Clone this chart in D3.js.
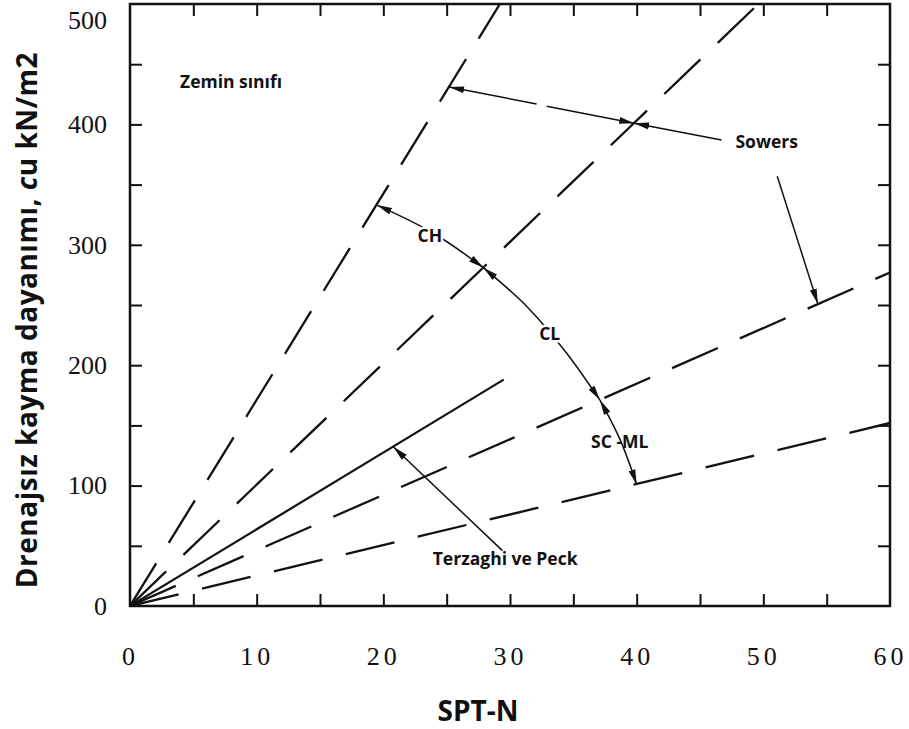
<!DOCTYPE html>
<html>
<head>
<meta charset="utf-8">
<script src="https://cdn.jsdelivr.net/npm/d3@7"></script>
<style>
  body{margin:0;background:#fff}
  svg{display:block}
  .lbl{font-family:"Open Sans",sans-serif;font-weight:700;fill:#111}
  .tick-lbl text{font-family:"Liberation Serif","Times New Roman",serif;font-size:26px;fill:#111}
</style>
</head>
<body>
<svg id="chart"></svg>
<script>
// axis ticks
const xLabels = [0,10,20,30,40,50,60]
const yLabels = [0,100,200,300,400,500]
const xMinor = [5,10,15,20,25,30,35,40,45,50,55]
const yMinor = [50,100,150,200,250,300,350,400,450]

// Sowers soil class boundaries, from origin to end point [N, cu]
const sowersEndN = [29.2, 49.6, 60, 60]
const sowersEndCu = [500, 500, 277, 152]
// Terzaghi ve Peck
const terzaghiN = [0, 29.5]
const terzaghiCu = [0, 188]

// soil class arc (CH / CL / SC-ML) [N, cu]
const arcCH = [[19.5,333],[23.9,310],[27.9,281]]
const arcCL = [[27.9,281],[31.4,248],[34.4,211],[37.1,171]]
const arcSCML = [[37.1,171],[38.7,138],[40.0,101]]

// leader arrows [from, to]
const sowersArrows = [
  [[46.7,387],[39.8,401]],
  [[32.9,415],[39.8,401]],
  [[32.1,417],[25.2,431]],
  [[51.1,357],[54.3,251]]
]
const terzaghiArrow = [[29.4,46],[20.8,132]]

const width = 909, height = 729
const margin = {top:4, right:19, bottom:123, left:130}

const svg = d3.select('#chart').attr('width',width).attr('height',height)

const x = d3.scaleLinear().domain([0,60]).range([margin.left, width - margin.right])
const y = d3.scaleLinear().domain([0,500]).range([height - margin.bottom, margin.top])

svg.append('defs').append('clipPath').attr('id','plot')
  .append('rect')
  .attr('x',x(0)).attr('y',y(500))
  .attr('width',x(60)-x(0)).attr('height',y(0)-y(500))

svg.select('defs').append('marker')
  .attr('id','arr')
  .attr('viewBox','0 0 15 8')
  .attr('refX',15).attr('refY',4)
  .attr('markerWidth',15).attr('markerHeight',8)
  .attr('markerUnits','userSpaceOnUse')
  .attr('orient','auto-start-reverse')
  .append('path').attr('d','M0,0.5 L15,4 L0,7.5 Z').attr('fill','#111')

const line = d3.line().x(d => x(d[0])).y(d => y(d[1]))

// inner ticks on all four sides
const tickLen = 12
function ticks(axis, tr){
  const g = svg.append('g').attr('transform',tr).call(axis)
  g.select('.domain').remove()
  g.selectAll('line').attr('stroke','#111').attr('stroke-width',2)
  g.selectAll('text').remove()
}
ticks(d3.axisBottom(x).tickValues(xMinor).tickSize(-tickLen), `translate(0,${y(0)})`)
ticks(d3.axisTop(x).tickValues(xMinor).tickSize(-tickLen), `translate(0,${y(500)})`)
ticks(d3.axisLeft(y).tickValues(yMinor).tickSize(-tickLen), `translate(${x(0)},0)`)
ticks(d3.axisRight(y).tickValues(yMinor).tickSize(-tickLen), `translate(${x(60)},0)`)

// tick labels
const xAxisG = svg.append('g').attr('class','tick-lbl')
  .attr('transform',`translate(0,${y(0)})`)
  .call(d3.axisBottom(x).tickValues(xLabels).tickSize(0).tickPadding(41))
xAxisG.select('.domain').remove()
xAxisG.selectAll('text').attr('letter-spacing','4px')

const yAxisG = svg.append('g').attr('class','tick-lbl')
  .attr('transform',`translate(${x(0)},0)`)
  .call(d3.axisLeft(y).tickValues(yLabels).tickSize(0).tickPadding(23))
yAxisG.select('.domain').remove()
yAxisG.selectAll('.tick').filter(d => d === 500).select('text').attr('y',16)

// lines
const plot = svg.append('g').attr('clip-path','url(#plot)')

plot.selectAll('.sowers').data(sowersEndN)
  .enter().append('path')
  .attr('class','sowers')
  .attr('d',(d,i) => line([[0,0],[d,sowersEndCu[i]]]))
  .attr('fill','none')
  .attr('stroke','#111')
  .attr('stroke-width',2.3)
  .attr('stroke-dasharray','50,24')

plot.append('path')
  .attr('d',line(terzaghiN.map((n,i) => [n,terzaghiCu[i]])))
  .attr('fill','none')
  .attr('stroke','#111')
  .attr('stroke-width',2.2)

// arc with double arrows
const arcLine = d3.line().x(d => x(d[0])).y(d => y(d[1])).curve(d3.curveCatmullRom)
svg.selectAll('.arc').data([arcCH,arcCL,arcSCML])
  .enter().append('path')
  .attr('class','arc')
  .attr('d',d => arcLine(d))
  .attr('fill','none')
  .attr('stroke','#111')
  .attr('stroke-width',1.5)
  .attr('marker-start','url(#arr)')
  .attr('marker-end','url(#arr)')

svg.selectAll('.lead').data(sowersArrows.concat([terzaghiArrow]))
  .enter().append('path')
  .attr('class','lead')
  .attr('d',d => line(d))
  .attr('fill','none')
  .attr('stroke','#111')
  .attr('stroke-width',1.5)
  .attr('marker-end','url(#arr)')

// frame
svg.append('rect')
  .attr('x',x(0)).attr('y',y(500))
  .attr('width',x(60)-x(0)).attr('height',y(0)-y(500))
  .attr('fill','none').attr('stroke','#111').attr('stroke-width',2.5)

// annotations
function note(t, n, cu, halo){
  const el = svg.append('text').attr('class','lbl')
    .attr('x',x(n)).attr('y',y(cu))
    .attr('font-size',17.5).text(t)
  if (halo) el.attr('stroke','#fff').attr('stroke-width',5).attr('paint-order','stroke')
}
note('Zemin sınıfı', 3.95, 430)
note('Sowers', 47.8, 380)
note('CH', 22.7, 302, true)
note('CL', 32.3, 221, true)
note('SC -ML', 36.4, 131)
note('Terzaghi ve Peck', 23.9, 34)

// axis titles
svg.append('text').attr('class','lbl')
  .attr('x',478).attr('y',721)
  .attr('text-anchor','middle')
  .attr('font-size',28)
  .text('SPT-N')

const yt = svg.append('text').attr('class','lbl')
  .attr('transform','translate(37,320) rotate(-90)')
  .attr('text-anchor','middle')
  .attr('font-size',28)
  .attr('letter-spacing','0.5px')
yt.append('tspan').text('Drenajsız kayma dayanımı, ')
yt.append('tspan').attr('font-style','italic').text('c')
yt.append('tspan').text('u kN/m2')
</script>
</body>
</html>
